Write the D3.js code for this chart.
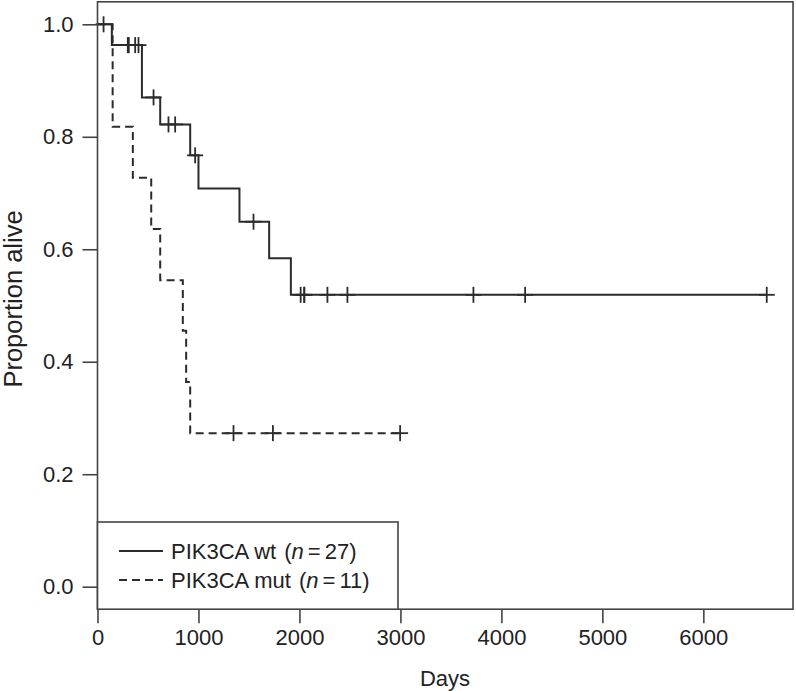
<!DOCTYPE html>
<html>
<head>
<meta charset="utf-8">
<script src="https://cdn.jsdelivr.net/npm/d3@7"></script>
<style>
body { margin: 0; background: #fff; }
text { font-family: "Liberation Sans", Arial, sans-serif; fill: #222; }
</style>
</head>
<body>
<svg width="796" height="691"></svg>
<script>
// PIK3CA wild type, step times (days) and survival after each step
var wtTimes = [0, 142, 440, 621, 918, 1000, 1406, 1700, 1915];
var wtSurv = [1, 0.963, 0.870, 0.822, 0.767, 0.708, 0.649, 0.584, 0.519];
var wtEnd = 6628;
var wtCensor = [60, 300, 310, 373, 406, 555, 703, 769, 967, 1545, 2012, 2048, 2048, 2277, 2475, 3723, 4235, 6628];

// PIK3CA mutant
var mutTimes = [0, 150, 350, 532, 621, 845, 878, 918];
var mutSurv = [1, 0.818, 0.727, 0.636, 0.545, 0.455, 0.364, 0.273];
var mutEnd = 2997;
var mutCensor = [1347, 1737, 2997];

var xTicks = [0, 1000, 2000, 3000, 4000, 5000, 6000];
var yTicks = [0, 0.2, 0.4, 0.6, 0.8, 1.0];
var legendLabels = [["PIK3CA wt", "27"], ["PIK3CA mut", "11"]];

var svg = d3.select("svg");
var ink = "#2b2b2b";

var x = d3.scaleLinear().domain([0, 6888]).range([97.5, 793]);
var y = d3.scaleLinear().domain([-0.04, 1.04]).range([609.2, 1.8]);

function steps(times, surv, end) {
	var pts = [];
	for (var i = 0; i < times.length; i++) {
		pts.push([times[i], surv[i]]);
	}
	pts.push([end, surv[surv.length - 1]]);
	return pts;
}

function survAt(times, surv, t) {
	var i = d3.bisectRight(times, t) - 1;
	return surv[Math.max(i, 0)];
}

var line = d3.line()
	.x(function(d) { return x(d[0]); })
	.y(function(d) { return y(d[1]); })
	.curve(d3.curveStepAfter);

var groups = [
	{times: wtTimes, surv: wtSurv, end: wtEnd, censor: wtCensor, dash: null},
	{times: mutTimes, surv: mutSurv, end: mutEnd, censor: mutCensor, dash: "8,5"}
];

groups.forEach(function(g) {
	svg.append("path")
		.attr("d", line(steps(g.times, g.surv, g.end)))
		.attr("fill", "none")
		.attr("stroke", ink)
		.attr("stroke-width", 2)
		.attr("stroke-dasharray", g.dash);

	var marks = svg.selectAll(null)
		.data(g.censor)
		.enter().append("g")
		.attr("transform", function(t) {
			return "translate(" + x(t) + "," + y(survAt(g.times, g.surv, t)) + ")";
		});
	marks.append("line")
		.attr("x1", -8).attr("x2", 8)
		.attr("stroke", ink).attr("stroke-width", 1.8);
	marks.append("line")
		.attr("y1", -8).attr("y2", 8)
		.attr("stroke", ink).attr("stroke-width", 1.8);
});

// axes
var xAxis = svg.append("g")
	.attr("transform", "translate(0,609.2)")
	.call(d3.axisBottom(x).tickValues(xTicks).tickFormat(d3.format("d")).tickSize(14).tickPadding(6));
var yAxis = svg.append("g")
	.attr("transform", "translate(97.5,0)")
	.call(d3.axisLeft(y).tickValues(yTicks).tickFormat(d3.format(".1f")).tickSize(15).tickPadding(9));

[xAxis, yAxis].forEach(function(a) {
	a.select(".domain").remove();
	a.selectAll("line").attr("stroke", "#444").attr("stroke-width", 1.6);
	a.selectAll("text")
		.attr("fill", "#222")
		.style("font-size", "22px")
		.style("font-family", "'Liberation Sans', Arial, sans-serif");
});

svg.append("rect")
	.attr("x", x.range()[0]).attr("y", y.range()[1])
	.attr("width", x.range()[1] - x.range()[0])
	.attr("height", y.range()[0] - y.range()[1])
	.attr("fill", "none")
	.attr("stroke", "#444")
	.attr("stroke-width", 1.6);

svg.append("text")
	.attr("x", 445).attr("y", 685.5)
	.attr("text-anchor", "middle")
	.style("font-size", "22px")
	.text("Days");

svg.append("text")
	.attr("transform", "translate(22,299) rotate(-90)")
	.attr("text-anchor", "middle")
	.style("font-size", "25.5px")
	.text("Proportion alive");

// legend
var legend = svg.append("g");
legend.append("rect")
	.attr("x", 97.5).attr("y", 522)
	.attr("width", 300.5).attr("height", 609.2 - 522)
	.attr("fill", "#fff")
	.attr("stroke", "#444")
	.attr("stroke-width", 1.6);

var rows = legend.selectAll(".row")
	.data(legendLabels)
	.enter().append("g")
	.attr("class", "row")
	.attr("transform", function(d, i) { return "translate(0," + (551 + i * 29) + ")"; });

rows.append("line")
	.attr("x1", 119).attr("x2", 163)
	.attr("stroke", ink)
	.attr("stroke-width", 2)
	.attr("stroke-dasharray", function(d, i) { return groups[i].dash; });

var lt = rows.append("text")
	.attr("x", 171).attr("y", 8)
	.style("font-size", "22px");
lt.append("tspan").text(function(d) { return d[0]; });
lt.append("tspan").attr("dx", 2).text(" (");
lt.append("tspan").style("font-style", "italic").text("n");
lt.append("tspan").attr("dx", 4).text("=");
lt.append("tspan").attr("dx", 4).text(function(d) { return d[1] + ")"; });
</script>
</body>
</html>
